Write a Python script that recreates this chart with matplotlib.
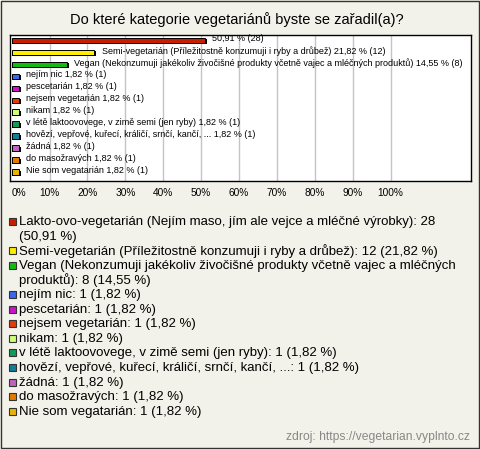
import matplotlib
matplotlib.use('Agg')
import matplotlib.pyplot as plt
from matplotlib.patches import Rectangle

plt.rcParams['font.family'] = ['Liberation Sans', 'DejaVu Sans']

title = 'Do které kategorie vegetariánů byste se zařadil(a)?'

categories = [
    'Lakto-ovo-vegetarián (Nejím maso, jím ale vejce a mléčné výrobky)',
    'Semi-vegetarián (Příležitostně konzumuji i ryby a drůbež)',
    'Vegan (Nekonzumuji jakékoliv živočišné produkty včetně vajec a mléčných produktů)',
    'nejím nic',
    'pescetarián',
    'nejsem vegetarián',
    'nikam',
    'v létě laktoovovege, v zimě semi (jen ryby)',
    'hovězí, vepřové, kuřecí, králičí, srnčí, kančí, ...',
    'žádná',
    'do masožravých',
    'Nie som vegatarián',
]
counts = [28, 12, 8, 1, 1, 1, 1, 1, 1, 1, 1, 1]
percents = [50.91, 21.82, 14.55, 1.82, 1.82, 1.82, 1.82, 1.82, 1.82, 1.82, 1.82, 1.82]
# the first bar shows only the number, not the name
bar_names = [''] + categories[1:]
colors = ['#c81e00', '#ffee00', '#11bb11', '#3a66f0', '#cc11cc', '#e43a0a',
          '#ccff77', '#139958', '#157c96', '#bb66bb', '#e47a00', '#e8b400']
legend_lines = [
    'Lakto-ovo-vegetarián (Nejím maso, jím ale vejce a mléčné výrobky): 28\n(50,91 %)',
    None,
    'Vegan (Nekonzumuji jakékoliv živočišné produkty včetně vajec a mléčných\nproduktů): 8 (14,55 %)',
]

def fmt(v):
    return ('%.2f' % v).replace('.', ',')

W, H = 480, 449
bg = '#f3f2ea'
fig = plt.figure(figsize=(W / 100, H / 100), dpi=100, facecolor=bg)

# overlay in pixel coordinates for title, legend, source
ov = fig.add_axes([0, 0, 1, 1])
ov.set_xlim(0, W)
ov.set_ylim(H, 0)
ov.axis('off')
ov.add_patch(Rectangle((0.5, 0.5), W - 1.5, H - 1.5, fill=False, edgecolor='#333333', lw=1))
ov.text(237, 20, title, ha='center', va='center', fontsize=10.5)

# bar chart axes
ax = fig.add_axes([10 / W, 1 - 181 / H, 461 / W, 146 / H])
ax.set_facecolor('white')
ax.set_xlim(-0.45, 121.2)
n = len(categories)
ax.set_ylim(n - 0.25, -0.42)
for g in range(10, 101, 10):
    ax.axvline(g, color='#c4c4c4', lw=1, zorder=0)
ys = list(range(n))
ax.barh([y + 0.09 for y in ys], [p + 0.55 for p in percents], height=0.42,
        color='black', zorder=2)
ax.barh(ys, percents, height=0.42, color=colors, edgecolor='black', lw=0.7, zorder=3)
for y, p, c, name in zip(ys, percents, counts, bar_names):
    lab = (name + ' ' if name else '') + '%s %% (%d)' % (fmt(p), c)
    ax.text(p + 1.9, y - 0.1, lab, va='center', ha='left', fontsize=6.5, zorder=4)
ax.set_yticks([])
ax.set_xticks(range(0, 101, 10))
ax.set_xticklabels(['%d%%' % v for v in range(0, 101, 10)], fontsize=7.3)
ax.tick_params(axis='x', length=0, pad=5)
ax.get_xticklabels()[0].set_ha('left')
for s in ax.spines.values():
    s.set_color('black')
    s.set_linewidth(1)
    s.set_zorder(5)

# legend
y0, step = 222, 14.6
line = 0
for i, cat in enumerate(categories):
    if i < len(legend_lines) and legend_lines[i]:
        txt = legend_lines[i]
    else:
        txt = '%s: %d (%s %%)' % (cat, counts[i], fmt(percents[i]))
    ov.add_patch(Rectangle((8.5, y0 + step * line - 4), 7, 7, facecolor=colors[i],
                           edgecolor='#333333', lw=0.8))
    for part in txt.split('\n'):
        ov.text(19, y0 + step * line, part, va='center', ha='left', fontsize=9.5)
        line += 1

ov.text(470, 437, 'zdroj: https://vegetarian.vyplnto.cz', ha='right', va='center',
        fontsize=8.7, color='#888888')

fig.savefig('out.png', dpi=100, facecolor=bg)
